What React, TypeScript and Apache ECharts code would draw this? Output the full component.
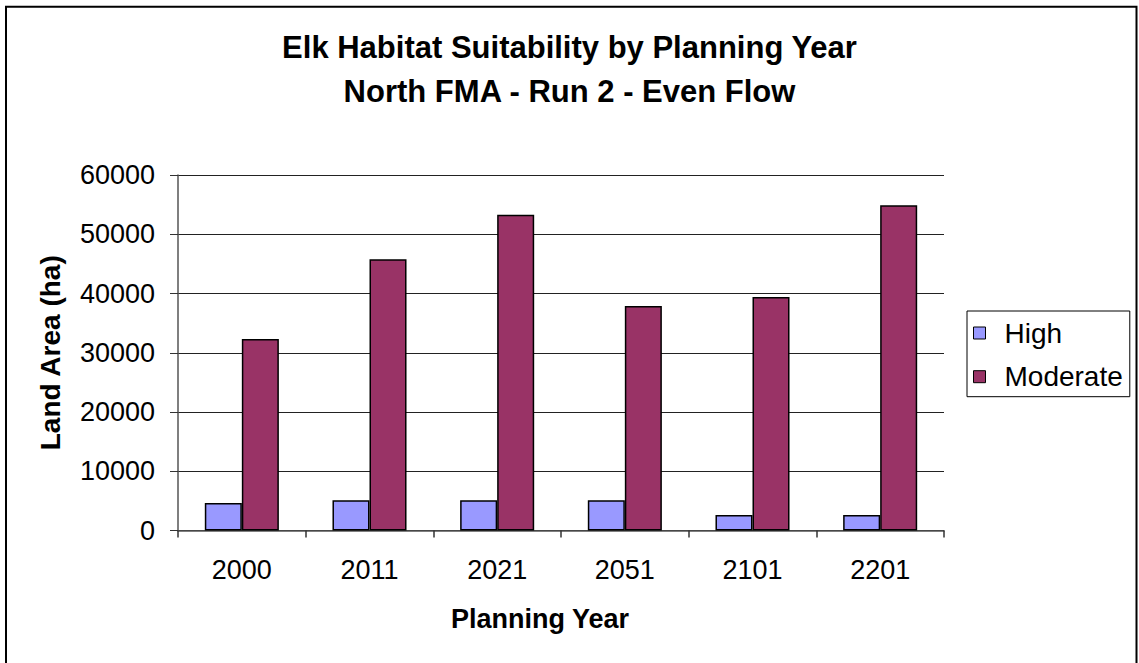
import React, { useEffect, useRef } from "react";
import * as echarts from "echarts";

const categories = ["2000", "2011", "2021", "2051", "2101", "2201"];
const highValues = [4650, 5100, 5100, 5100, 2600, 2600];
const moderateValues = [32300, 45800, 53300, 37900, 39400, 54900];
const seriesNames = ["High", "Moderate"];
const titleLines = ["Elk Habitat Suitability by Planning Year", "North FMA - Run 2 - Even Flow"];
const xAxisTitle = "Planning Year";
const yAxisTitle = "Land Area (ha)";

export default function App() {
  const ref = useRef<HTMLDivElement>(null);
  useEffect(() => {
    if (!ref.current) return;
    const chart = echarts.init(ref.current, undefined, { renderer: "svg" });
    const font = "'Liberation Sans', Arial, sans-serif";
    chart.setOption({
      animation: false,
      backgroundColor: "#ffffff",
      textStyle: { fontFamily: font },
      title: {
        text: titleLines.join("\n"),
        left: "center",
        top: 20,
        textStyle: { fontSize: 31, fontWeight: "bold", color: "#000", lineHeight: 44, fontFamily: font },
      },
      graphic: [
        {
          type: "rect",
          shape: { x: 6, y: 6.8, width: 1130.5, height: 700 },
          style: { fill: "none", stroke: "#000", lineWidth: 2 },
          silent: true,
        },
      ],
      legend: {
        orient: "vertical",
        left: 967,
        top: 311,
        padding: [8, 7, 6, 6],
        borderColor: "#000",
        borderWidth: 1,
        itemWidth: 12,
        itemHeight: 12,
        itemGap: 15.7,
        icon: "rect",
        itemStyle: { borderColor: "#000", borderWidth: 1 },
        textStyle: { fontSize: 28, color: "#000", lineHeight: 28, padding: [0, 0, 0, 14], fontFamily: font },
        data: seriesNames,
      },
      grid: { left: 178, right: 195, top: 175, bottom: 132.5, containLabel: false },
      xAxis: {
        type: "category",
        data: categories,
        name: xAxisTitle,
        nameLocation: "middle",
        nameGap: 75,
        nameTextStyle: { fontSize: 27, fontWeight: "bold", color: "#000", padding: [0, 42, 0, 0], fontFamily: font },
        axisLine: { lineStyle: { color: "#555", width: 1.5 } },
        axisTick: { show: true, length: 7, lineStyle: { color: "#333", width: 1.5 } },
        axisLabel: { fontSize: 27, color: "#000", margin: 26, fontFamily: font },
      },
      yAxis: {
        type: "value",
        min: 0,
        max: 60000,
        interval: 10000,
        name: yAxisTitle,
        nameLocation: "middle",
        nameGap: 114,
        nameRotate: 90,
        nameTextStyle: { fontSize: 28, fontWeight: "bold", color: "#000", fontFamily: font },
        axisLine: { show: true, lineStyle: { color: "#555", width: 1.5 } },
        axisTick: { show: true, length: 8, lineStyle: { color: "#333", width: 1 } },
        axisLabel: { fontSize: 27, color: "#000", margin: 23, fontFamily: font, formatter: (v: number) => String(v) },
        splitLine: { show: true, lineStyle: { color: "#222", width: 1 } },
      },
      series: [
        {
          name: seriesNames[0],
          type: "bar",
          data: highValues,
          barGap: "0%",
          barCategoryGap: "42%",
          itemStyle: { color: "#9999FF", borderColor: "#000", borderWidth: 1.5 },
        },
        {
          name: seriesNames[1],
          type: "bar",
          data: moderateValues,
          barGap: "0%",
          barCategoryGap: "42%",
          itemStyle: { color: "#993366", borderColor: "#000", borderWidth: 1.5 },
        },
      ],
    });
    return () => chart.dispose();
  }, []);
  return (
    <div
      ref={ref}
      style={{ position: "fixed", left: 0, top: 0, width: 1139, height: 663, background: "#fff" }}
    />
  );
}
